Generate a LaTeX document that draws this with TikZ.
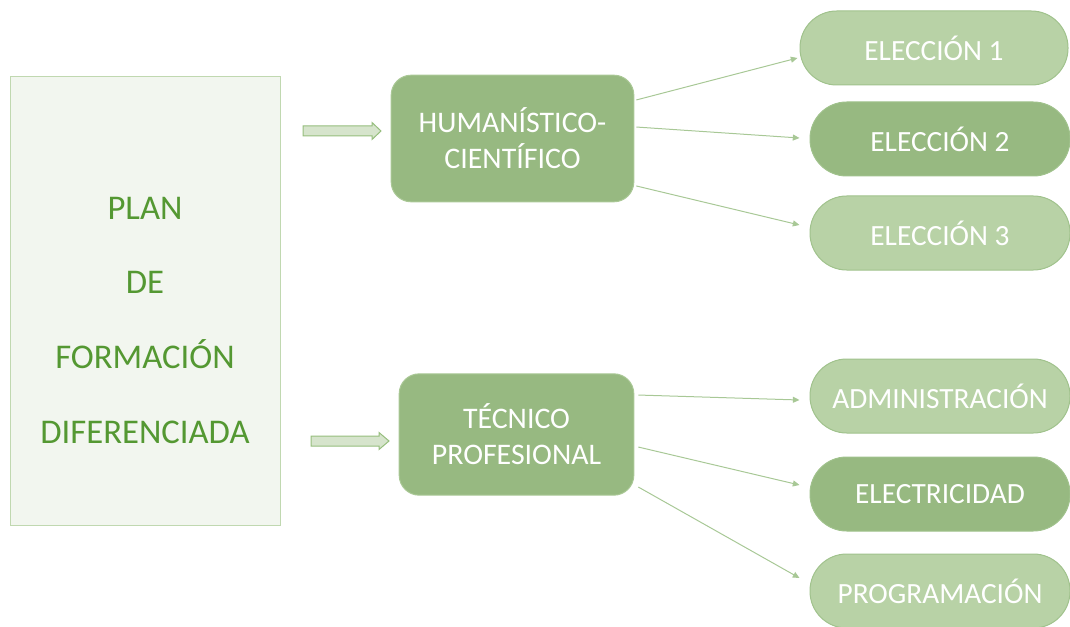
\documentclass[tikz,border=0pt]{standalone}
\usepackage{fontspec}
\setmainfont{Carlito}
\usetikzlibrary{arrows.meta}
\definecolor{planfill}{RGB}{242,246,239}
\definecolor{planedge}{RGB}{192,216,176}
\definecolor{plantext}{RGB}{84,152,50}
\definecolor{trackfill}{RGB}{151,185,129}
\definecolor{trackedge}{RGB}{170,200,150}
\definecolor{choicefill}{RGB}{184,210,166}
\definecolor{choiceedge}{RGB}{160,194,140}
\definecolor{linkgreen}{RGB}{168,200,150}
\definecolor{blockfill}{RGB}{214,228,204}
\definecolor{blockedge}{RGB}{150,190,125}
\tikzset{
  planbox/.style={draw=planedge, fill=planfill, line width=0.75pt, minimum width=202.5pt, minimum height=336pt, inner sep=0pt},
  trackbox/.style={draw=trackedge, fill=trackfill, line width=0.75pt, rounded corners=15pt, text=white, align=center, font=\fontsize{22.4}{27}\selectfont},
  choice/.style={draw=choiceedge, fill=choicefill, line width=0.75pt, rounded corners=27.5pt, minimum width=195pt, minimum height=55.5pt, text=white, font=\fontsize{22}{24}\selectfont},
  choicedark/.style={choice, fill=trackfill},
  link/.style={draw=linkgreen, line width=0.75pt, -{Triangle[length=5pt,width=4.5pt]}},
  blockarrow/.style={draw=blockedge, fill=blockfill, line width=0.75pt}
}
\begin{document}
\begin{tikzpicture}[x=0.75pt,y=-0.75pt]
\useasboundingbox (0,0) rectangle (1070,627);

%Plan box
\node[planbox] (plan) at (145,301) {};
\node[text=plantext, align=center, font=\fontsize{26}{56}\selectfont] (plantxt) at (145,320) {PLAN\\DE\\FORMACIÓN\\DIFERENCIADA};

%Block arrows
\draw[blockarrow] (303,126) -- (372,126) -- (372,122.5) -- (381,131) -- (372,139.5) -- (372,136) -- (303,136) -- cycle;
\draw[blockarrow] (311,436) -- (379,436) -- (379,432.5) -- (389,441) -- (379,449.5) -- (379,446) -- (311,446) -- cycle;

%Tracks
\node[trackbox, minimum width=182pt, minimum height=95pt] (hum) at (512.5,138.5) {HUMANÍSTICO-\\CIENTÍFICO};
\node[trackbox, minimum width=176pt, minimum height=91pt] (tec) at (516.5,434.5) {TÉCNICO\\PROFESIONAL};

%Choices
\node[choice, minimum width=201pt] (e1) at (934,48) {ELECCIÓN 1};
\node[choicedark] (e2) at (940,139) {ELECCIÓN 2};
\node[choice] (e3) at (940,233) {ELECCIÓN 3};
\node[choice] (adm) at (940,396) {ADMINISTRACIÓN};
\node[choicedark] (ele) at (940,494) {ELECTRICIDAD};
\node[choice] (prg) at (940,591) {PROGRAMACIÓN};

%Links
\draw[link] ([xshift=1.5pt,yshift=28.9pt]hum.east) -- ([xshift=-1.5pt,yshift=-7.5pt]e1.west);
\draw[link] ([xshift=1.5pt,yshift=8.6pt]hum.east) -- ([xshift=-7.5pt,yshift=0.75pt]e2.west);
\draw[link] ([xshift=1.5pt,yshift=-35.6pt]hum.east) -- ([xshift=-7.5pt,yshift=6pt]e3.west);
\draw[link] ([xshift=3pt,yshift=29.6pt]tec.east) -- ([xshift=-7.5pt,yshift=-3pt]adm.west);
\draw[link] ([xshift=3pt,yshift=-9.4pt]tec.east) -- ([xshift=-7.5pt,yshift=6.75pt]ele.west);
\draw[link] ([xshift=3pt,yshift=-39.4pt]tec.east) -- ([xshift=-7.5pt,yshift=9.75pt]prg.west);

\end{tikzpicture}
\end{document}
